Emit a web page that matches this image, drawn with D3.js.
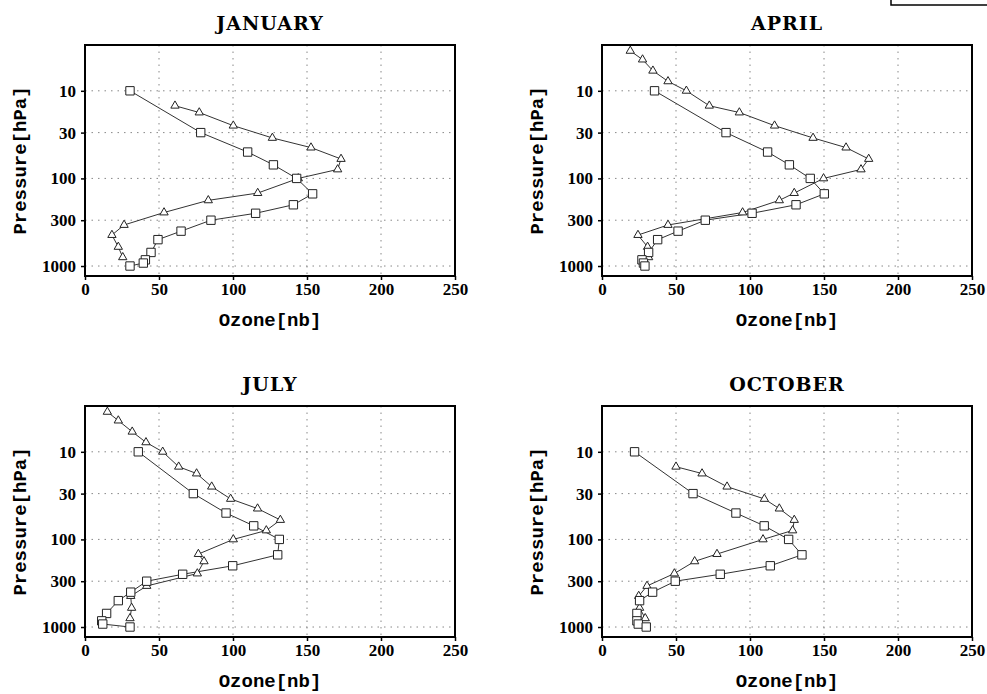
<!DOCTYPE html>
<html>
<head>
<meta charset="utf-8">
<script src="https://cdn.jsdelivr.net/npm/d3@7"></script>
<style>
  body { margin: 0; background: #fff; }
  svg { display: block; }
</style>
</head>
<body>
<div id="chart"></div>
<script>
// ozone profiles, squares on standard levels, triangles on model levels
const months = ["JANUARY", "APRIL", "JULY", "OCTOBER"]
const sqLevels = [10, 30, 50, 70, 100, 150, 200, 250, 300, 400, 500, 700, 850, 925, 1000]
const triLevels = [3.5, 4.4, 5.9, 7.8, 10, 14.8, 17.7, 25, 34.5, 44.5, 60, 79, 100, 147, 178, 245, 340, 443, 605, 795]

const sqJan = [30.4, 78.2, 109.9, 127.3, 143, 153.8, 140.8, 115.3, 85.1, 64.9, 49.3, 44.6, 40.8, 39.4, 30.4]
const sqApr = [35.5, 83.8, 111.9, 126.6, 140.7, 150.2, 131.1, 101.4, 69.8, 51.4, 37.6, 31.5, 27, 28, 29]
const sqJul = [36, 73.2, 95.3, 114, 131.3, 130.2, 99.8, 66, 41.7, 30.9, 22.5, 14.6, 11.3, 12, 30.4]
const sqOct = [22, 61.5, 90.5, 109.6, 126.1, 135.1, 113.7, 79.9, 49.5, 34.2, 25.4, 23.6, 23.6, 24.5, 29.9]

const triJan = [null, null, null, null, null, 60.8, 77.2, 100.2, 126.6, 152.7, 173, 170.7, 144.1, 116.7, 83.3, 53.4, 26.4, 18.2, 22.5, 25.5]
const triApr = [19.1, 27.4, 34.4, 44.6, 57, 72.5, 92.8, 116.6, 142.6, 164.9, 180.2, 175, 149.7, 129.9, 119.8, 95, 44.6, 24.3, 30.8, 31.5]
const triJul = [15.1, 22.5, 31.9, 41.2, 52.5, 63.3, 75.4, 85.6, 98.4, 116.6, 132, 122.5, 100.2, 76.6, 80.4, 75.9, 41.7, 30.9, 31.5, 30.4]
const triOct = [null, null, null, null, null, 50, 67.6, 84.5, 109.7, 119.8, 129.9, 128.8, 108.8, 77.7, 62.6, 48.9, 30.4, 24.8, 25.4, 29.2]

const xTicks = [0, 50, 100, 150, 200, 250]
const pTicks = [10, 30, 100, 300, 1000]

const squares = [sqJan, sqApr, sqJul, sqOct]
const triangles = [triJan, triApr, triJul, triOct]

const W = 987, H = 694
const svg = d3.select('#chart').append('svg')
    .attr('width', W)
    .attr('height', H)

// panel origins
const pw = 370, ph = 231
const origins = [[85, 45], [602, 45], [85, 406], [602, 406]]

const x = d3.scaleLinear().domain([0, 250]).range([0, pw])
const y = d3.scaleLog().domain([3, 1300]).range([0, ph])

const line = d3.line()
    .x(d => x(d.v))
    .y(d => y(d.p))

const sqSym = d3.symbol(d3.symbolSquare, 70)
const triSym = d3.symbol(d3.symbolTriangle, 30)

months.forEach((m, i) => {
    const [ox, oy] = origins[i]
    const g = svg.append('g').attr('transform', `translate(${ox},${oy})`)

    // dotted grid
    g.append('g').selectAll('line')
        .data(xTicks.slice(1, -1))
        .join('line')
        .attr('x1', d => x(d)).attr('x2', d => x(d))
        .attr('y1', 0).attr('y2', ph)
        .attr('stroke', '#888').attr('stroke-width', 1)
        .attr('stroke-dasharray', '1.5,5')
    g.append('g').selectAll('line')
        .data(pTicks)
        .join('line')
        .attr('x1', 0).attr('x2', pw)
        .attr('y1', d => y(d)).attr('y2', d => y(d))
        .attr('stroke', '#888').attr('stroke-width', 1)
        .attr('stroke-dasharray', '1.5,5')

    // axes
    const ax = g.append('g')
        .attr('transform', `translate(0,${ph})`)
        .call(d3.axisBottom(x).tickValues(xTicks).tickSize(4).tickPadding(3).tickFormat(d3.format('d')))
    const ay = g.append('g')
        .call(d3.axisLeft(y).tickValues(pTicks).tickSize(4).tickPadding(5).tickFormat(d3.format('d')))
    ;[ax, ay].forEach(a => {
        a.select('.domain').remove()
        a.selectAll('line').attr('stroke', '#000').attr('stroke-width', 1.5)
        a.selectAll('text')
            .attr('fill', '#000')
            .style('font-family', '"Liberation Serif", serif')
            .style('font-weight', 'bold')
            .style('font-size', '17px')
    })

    // frame
    g.append('rect')
        .attr('width', pw).attr('height', ph)
        .attr('fill', 'none')
        .attr('stroke', '#000')
        .attr('stroke-width', 2)

    const sq = sqLevels.map((p, k) => ({ p: p, v: squares[i][k] }))
    const tri = triLevels.map((p, k) => ({ p: p, v: triangles[i][k] })).filter(d => d.v != null)

    g.append('path').datum(tri)
        .attr('fill', 'none').attr('stroke', '#333').attr('stroke-width', 1)
        .attr('d', line)
    g.append('path').datum(sq)
        .attr('fill', 'none').attr('stroke', '#333').attr('stroke-width', 1)
        .attr('d', line)

    g.selectAll('path.tri')
        .data(tri)
        .join('path')
        .attr('class', 'tri')
        .attr('transform', d => `translate(${x(d.v)},${y(d.p)})`)
        .attr('d', triSym)
        .attr('fill', '#fff').attr('stroke', '#222').attr('stroke-width', 1)
    g.selectAll('path.sq')
        .data(sq)
        .join('path')
        .attr('class', 'sq')
        .attr('transform', d => `translate(${x(d.v)},${y(d.p)})`)
        .attr('d', sqSym)
        .attr('fill', '#fff').attr('stroke', '#222').attr('stroke-width', 1)

    // titles and labels
    g.append('text')
        .attr('x', pw / 2).attr('y', -15)
        .attr('text-anchor', 'middle')
        .style('font-family', '"DejaVu Serif", serif')
        .style('font-weight', 'bold')
        .style('font-size', '19px')
        .style('letter-spacing', '1px')
        .text(m)
    g.append('text')
        .attr('x', pw / 2).attr('y', ph + 50)
        .attr('text-anchor', 'middle')
        .style('font-family', '"Liberation Mono", monospace')
        .style('font-weight', 'bold')
        .style('font-size', '19px')
        .text('Ozone[nb]')
    g.append('text')
        .attr('transform', `translate(${-59},${ph / 2}) rotate(-90)`)
        .attr('text-anchor', 'middle')
        .style('font-family', '"Liberation Mono", monospace')
        .style('font-weight', 'bold')
        .style('font-size', '19px')
        .text('Pressure[hPa]')
})

// legend box, mostly off the page
svg.append('rect')
    .attr('x', 891).attr('y', -20)
    .attr('width', 120).attr('height', 25)
    .attr('fill', 'none')
    .attr('stroke', '#000')
    .attr('stroke-width', 1.5)
</script>
</body>
</html>
